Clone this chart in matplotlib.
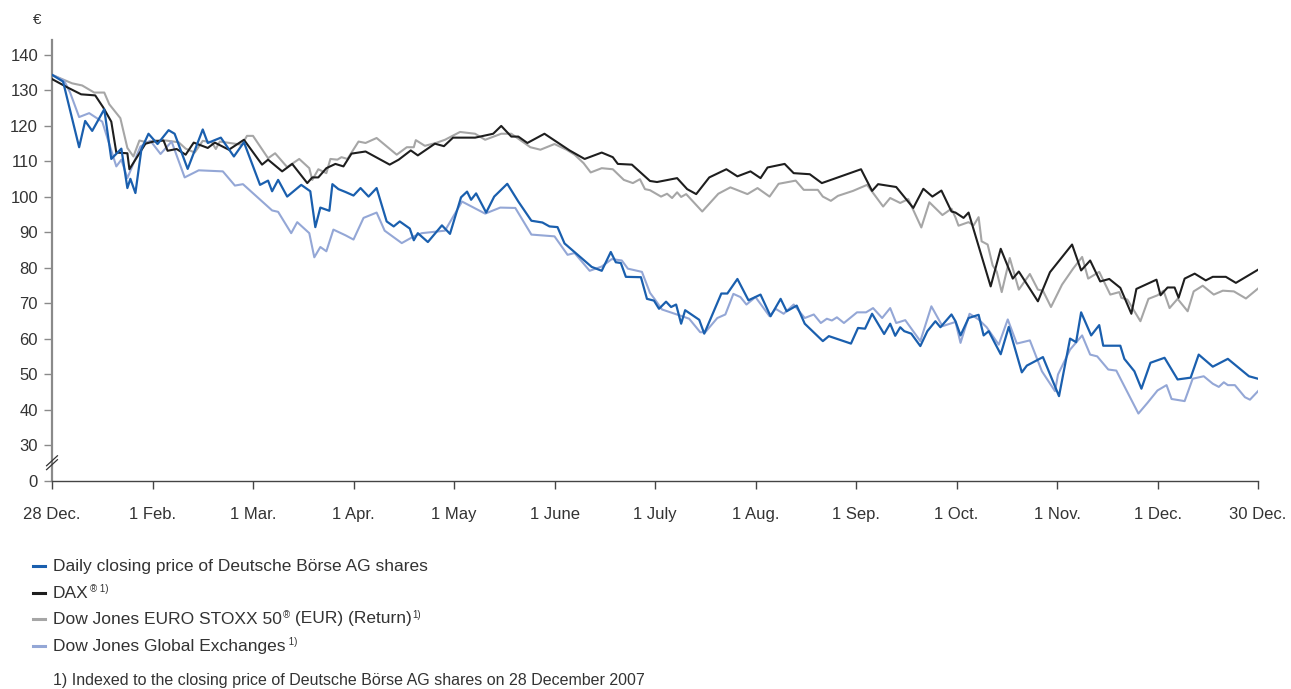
import matplotlib
matplotlib.use("Agg")
import matplotlib.pyplot as plt

plt.rcParams['font.family'] = ['Liberation Sans', 'DejaVu Sans']

# x positions are in months after 28 Dec. 2007 (each month tick is evenly spaced)
month_labels = ["28 Dec.", "1 Feb.", "1 Mar.", "1 Apr.", "1 May", "1 June", "1 July",
                "1 Aug.", "1 Sep.", "1 Oct.", "1 Nov.", "1 Dec.", "30 Dec."]
y_ticks = [20, 30, 40, 50, 60, 70, 80, 90, 100, 110, 120, 130, 140]
y_labels = ["0", "30", "40", "50", "60", "70", "80", "90", "100", "110", "120", "130", "140"]

db_x = [0.00, 0.11, 0.27, 0.33, 0.40, 0.52, 0.59, 0.69, 0.75, 0.78, 0.83, 0.89, 0.96, 1.05,
        1.16, 1.22, 1.35, 1.50, 1.55, 1.68, 1.81, 1.91, 2.07, 2.15, 2.19, 2.25, 2.34, 2.48,
        2.57, 2.62, 2.67, 2.76, 2.79, 2.85, 2.92, 3.00, 3.07, 3.15, 3.23, 3.33, 3.40, 3.46,
        3.56, 3.60, 3.64, 3.74, 3.88, 3.96, 4.07, 4.13, 4.17, 4.22, 4.32, 4.40, 4.53, 4.64,
        4.77, 4.88, 4.95, 5.03, 5.10, 5.37, 5.47, 5.56, 5.61, 5.66, 5.71, 5.86, 5.92, 5.99,
        6.04, 6.11, 6.16, 6.21, 6.26, 6.30, 6.44, 6.49, 6.66, 6.72, 6.82, 6.93, 7.05, 7.15,
        7.25, 7.31, 7.41, 7.49, 7.67, 7.73, 7.95, 8.02, 8.09, 8.16, 8.28, 8.34, 8.39, 8.44,
        8.48, 8.55, 8.64, 8.71, 8.79, 8.84, 8.95, 8.99, 9.04, 9.12, 9.22, 9.27, 9.32, 9.44,
        9.52, 9.65, 9.70, 9.86, 10.02, 10.13, 10.19, 10.24, 10.34, 10.42, 10.46, 10.63,
        10.67, 10.77, 10.84, 10.93, 11.07, 11.20, 11.33, 11.41, 11.55, 11.70, 11.91, 12.00]
db_y = [134.4, 132.5, 114.0, 121.4, 118.6, 124.7, 110.7, 113.6, 102.5, 105.1, 101.1, 113.5,
        117.8, 114.9, 118.8, 117.8, 107.9, 119.0, 115.2, 116.7, 111.4, 115.4, 103.4, 104.6,
        101.6, 104.8, 100.1, 103.4, 101.6, 91.5, 97.0, 96.1, 103.6, 102.2, 101.4, 100.4,
        102.5, 100.1, 102.5, 93.1, 91.7, 93.1, 91.1, 87.8, 89.8, 87.3, 92.0, 89.6, 99.9,
        101.5, 99.2, 101.0, 95.6, 100.1, 103.7, 98.7, 93.3, 92.8, 91.7, 91.5, 86.9, 80.3,
        79.2, 84.5, 81.6, 81.4, 77.5, 77.4, 71.3, 70.8, 68.5, 70.5, 69.0, 69.7, 64.3, 68.1,
        65.4, 61.5, 72.8, 72.8, 76.9, 70.9, 72.5, 66.4, 71.3, 67.8, 69.4, 64.3, 59.4, 60.8,
        58.7, 63.1, 62.9, 67.1, 61.4, 64.3, 60.9, 63.3, 62.2, 61.5, 58.0, 62.2, 65.0, 63.3,
        66.9, 65.0, 61.0, 65.9, 66.8, 61.0, 62.2, 55.7, 63.4, 50.6, 52.5, 54.9, 43.9, 60.1,
        59.1, 67.5, 61.0, 63.9, 58.1, 58.1, 54.4, 50.9, 46.0, 53.3, 54.7, 48.6, 49.1, 55.6,
        52.2, 54.4, 49.5, 48.8]

dax_x = [0.00, 0.15, 0.29, 0.43, 0.51, 0.59, 0.64, 0.75, 0.77, 0.93, 1.01, 1.11, 1.15, 1.24,
         1.33, 1.41, 1.55, 1.62, 1.76, 1.91, 2.09, 2.15, 2.29, 2.39, 2.54, 2.59, 2.65, 2.73,
         2.82, 2.90, 2.98, 3.12, 3.36, 3.45, 3.57, 3.64, 3.81, 3.90, 3.99, 4.21, 4.39, 4.47,
         4.57, 4.64, 4.73, 4.90, 5.15, 5.30, 5.47, 5.58, 5.63, 5.77, 5.95, 6.02, 6.22, 6.32,
         6.41, 6.54, 6.71, 6.82, 6.95, 7.05, 7.12, 7.29, 7.38, 7.54, 7.66, 8.05, 8.16, 8.22,
         8.40, 8.57, 8.67, 8.76, 8.85, 8.95, 8.99, 9.07, 9.12, 9.34, 9.44, 9.56, 9.62, 9.81,
         9.93, 10.15, 10.24, 10.33, 10.43, 10.52, 10.63, 10.74, 10.79, 10.99, 11.03, 11.10,
         11.17, 11.21, 11.27, 11.37, 11.48, 11.55, 11.68, 11.78, 12.00]
dax_y = [133.2, 130.9, 128.9, 128.6, 125.2, 121.2, 112.5, 112.3, 107.8, 115.0, 115.6, 115.9,
         113.0, 113.5, 111.9, 115.3, 113.8, 115.3, 113.3, 116.1, 109.1, 110.5, 107.2, 109.3,
         103.9, 105.5, 105.5, 108.1, 109.3, 108.6, 112.2, 112.8, 109.1, 110.5, 113.1, 111.7,
         115.0, 114.3, 116.7, 116.7, 117.8, 120.0, 117.0, 117.0, 115.2, 117.8, 113.1, 110.7,
         112.5, 111.2, 109.3, 109.1, 104.5, 104.2, 105.3, 102.2, 100.8, 105.5, 107.8, 105.8,
         107.2, 105.3, 108.3, 109.3, 106.7, 106.4, 103.9, 107.8, 101.7, 103.6, 102.8, 96.9,
         102.3, 100.1, 101.8, 95.9, 95.6, 94.1, 95.6, 74.8, 85.4, 77.0, 79.0, 70.6, 78.8,
         86.6, 79.3, 82.1, 76.2, 76.9, 74.4, 67.1, 74.1, 76.7, 72.3, 74.5, 74.5, 71.6, 77.0,
         78.4, 76.5, 77.5, 77.5, 75.8, 79.5]

stoxx_x = [0.00, 0.20, 0.30, 0.42, 0.52, 0.57, 0.68, 0.75, 0.81, 0.87, 0.94, 1.02, 1.13, 1.26,
           1.33, 1.42, 1.50, 1.59, 1.63, 1.67, 1.77, 1.89, 1.94, 2.00, 2.15, 2.22, 2.34, 2.46,
           2.56, 2.59, 2.65, 2.73, 2.77, 2.84, 2.88, 2.94, 3.05, 3.12, 3.23, 3.43, 3.53, 3.60,
           3.62, 3.71, 3.82, 3.91, 4.06, 4.21, 4.31, 4.47, 4.57, 4.64, 4.76, 4.86, 5.00, 5.12,
           5.20, 5.29, 5.36, 5.47, 5.58, 5.69, 5.78, 5.85, 5.90, 5.95, 6.06, 6.12, 6.17, 6.22,
           6.26, 6.31, 6.47, 6.63, 6.75, 6.92, 7.02, 7.14, 7.23, 7.40, 7.48, 7.62, 7.67, 7.75,
           7.82, 7.97, 8.11, 8.27, 8.34, 8.44, 8.52, 8.65, 8.73, 8.86, 8.95, 8.99, 9.02, 9.12,
           9.17, 9.22, 9.25, 9.31, 9.36, 9.40, 9.45, 9.53, 9.62, 9.73, 9.81, 9.86, 9.94, 10.05,
           10.16, 10.25, 10.31, 10.42, 10.53, 10.62, 10.64, 10.70, 10.83, 10.91, 11.00, 11.06,
           11.12, 11.20, 11.30, 11.36, 11.45, 11.56, 11.65, 11.76, 11.88, 12.00]
stoxx_y = [134.4, 132.0, 131.4, 129.4, 129.4, 126.1, 122.2, 113.8, 111.4, 115.9, 115.4, 115.9,
           115.9, 115.4, 113.6, 112.5, 115.8, 115.4, 113.5, 115.6, 115.2, 114.7, 117.2, 117.2,
           110.9, 112.3, 108.4, 110.7, 108.1, 104.8, 107.8, 106.7, 110.7, 110.5, 111.2, 110.7,
           115.6, 115.2, 116.6, 111.9, 114.0, 114.0, 116.0, 114.4, 115.2, 116.1, 118.3, 117.8,
           116.1, 117.8, 117.8, 116.4, 114.0, 113.3, 114.9, 113.3, 111.9, 109.5, 106.9, 108.1,
           107.8, 104.8, 103.9, 105.0, 102.2, 101.9, 100.1, 100.9, 99.7, 101.3, 100.0, 100.8,
           95.9, 100.9, 102.7, 100.8, 102.5, 100.1, 103.7, 104.6, 102.0, 102.0, 100.1, 98.9,
           100.3, 101.7, 103.4, 97.3, 99.7, 98.3, 99.4, 91.4, 98.5, 94.9, 96.7, 94.2, 91.9,
           92.9, 92.0, 94.3, 87.5, 86.6, 80.7, 79.0, 73.2, 82.8, 73.9, 78.3, 73.9, 73.6, 69.0,
           75.3, 79.8, 83.1, 77.0, 78.9, 72.5, 73.2, 71.6, 71.1, 65.0, 71.3, 72.3, 73.6, 68.7,
           71.3, 67.8, 73.4, 75.0, 72.5, 73.6, 73.4, 71.4, 74.2]

gx_x = [0.00, 0.12, 0.18, 0.27, 0.37, 0.50, 0.64, 0.69, 0.75, 0.88, 0.98, 1.08, 1.19, 1.32,
        1.46, 1.70, 1.82, 1.90, 2.19, 2.25, 2.38, 2.44, 2.56, 2.61, 2.67, 2.73, 2.80, 2.92,
        3.00, 3.10, 3.23, 3.31, 3.48, 3.60, 3.68, 3.91, 4.08, 4.31, 4.46, 4.61, 4.77, 5.00,
        5.13, 5.20, 5.35, 5.47, 5.57, 5.67, 5.73, 5.87, 5.95, 6.00, 6.07, 6.27, 6.34, 6.45,
        6.50, 6.62, 6.70, 6.78, 6.85, 6.91, 7.00, 7.14, 7.20, 7.28, 7.38, 7.49, 7.58, 7.65,
        7.71, 7.76, 7.81, 7.88, 8.01, 8.10, 8.17, 8.26, 8.34, 8.40, 8.49, 8.64, 8.75, 8.86,
        8.99, 9.04, 9.13, 9.22, 9.30, 9.42, 9.51, 9.60, 9.73, 9.85, 9.98, 10.01, 10.13,
        10.25, 10.33, 10.40, 10.51, 10.59, 10.81, 10.90, 11.00, 11.09, 11.14, 11.27, 11.35,
        11.46, 11.55, 11.61, 11.66, 11.70, 11.77, 11.87, 11.92, 12.00]
gx_y = [134.4, 132.8, 129.4, 122.5, 123.6, 121.2, 108.6, 110.5, 105.3, 114.2, 115.8, 112.1,
        115.6, 105.5, 107.5, 107.2, 103.2, 103.6, 96.2, 95.8, 89.8, 92.9, 89.8, 83.0, 85.9,
        84.7, 90.8, 89.2, 88.0, 94.1, 95.6, 90.5, 87.0, 88.9, 89.8, 90.5, 98.7, 95.3, 97.0,
        96.9, 89.4, 88.9, 83.7, 84.2, 79.2, 80.4, 82.5, 82.1, 79.8, 78.9, 73.0, 71.1, 68.3,
        66.4, 65.7, 61.9, 61.9, 65.9, 66.9, 72.7, 71.8, 69.7, 71.8, 66.4, 68.5, 67.1, 69.7,
        65.9, 66.9, 64.5, 65.7, 65.2, 66.1, 64.5, 67.5, 67.5, 68.7, 65.9, 68.7, 64.5, 65.3,
        59.4, 69.2, 63.6, 64.8, 58.9, 67.1, 65.5, 63.3, 58.4, 65.5, 58.7, 59.6, 50.9, 45.3,
        50.0, 57.0, 61.0, 55.6, 55.1, 51.4, 51.1, 39.0, 42.0, 45.5, 47.0, 43.1, 42.5, 48.8,
        49.5, 47.4, 46.5, 47.8, 47.0, 47.0, 43.6, 42.9, 45.3]

legend_labels = ["Daily closing price of Deutsche Börse AG shares", "DAX",
                 "Dow Jones EURO STOXX 50", "Dow Jones Global Exchanges"]
legend_sups = ["", "® 1)", "®", " 1)"]
legend_tails = ["", "", " (EUR) (Return)", ""]
legend_sups2 = ["", "", "1)", ""]
footnote = "1) Indexed to the closing price of Deutsche Börse AG shares on 28 December 2007"

c_db = "#1a5fae"
c_dax = "#1e1e1e"
c_stoxx = "#a6a6a6"
c_gx = "#94a7d6"
colors = [c_db, c_dax, c_stoxx, c_gx]
txt_col = "#333333"

W, H = 1291, 689
fig = plt.figure(figsize=(W / 100, H / 100), dpi=100)
ax = fig.add_axes([52 / W, 1 - 481 / H, 1206 / W, 441 / H])

ax.plot(stoxx_x, stoxx_y, color=c_stoxx, lw=1.5, zorder=2)
ax.plot(dax_x, dax_y, color=c_dax, lw=1.5, zorder=3)
ax.plot(gx_x, gx_y, color=c_gx, lw=1.5, zorder=2)
ax.plot(db_x, db_y, color=c_db, lw=1.6, zorder=4)

ax.set_xlim(0, 12)
ax.set_ylim(20, 144.2)
ax.set_xticks(range(13))
ax.set_xticklabels(month_labels)
ax.set_yticks(y_ticks)
ax.set_yticklabels(y_labels)

for s in ["top", "right"]:
    ax.spines[s].set_visible(False)
ax.spines["left"].set_color("#8a8a8a")
ax.spines["left"].set_linewidth(1.6)
ax.spines["bottom"].set_color("#444444")
ax.spines["bottom"].set_linewidth(1.0)
ax.tick_params(axis="y", length=6, width=1.0, color="#8a8a8a", labelsize=12,
               labelcolor=txt_col, pad=4)
ax.tick_params(axis="x", length=6, width=1.0, color="#444444", labelsize=12,
               labelcolor=txt_col, pad=13)

# axis break marks between 0 and 30
tr = ax.get_yaxis_transform()
for off in (0.0, 1.1):
    ax.plot([-0.0045, 0.0045], [23.2 + off, 26.0 + off], transform=tr, color=txt_col,
            lw=0.9, clip_on=False, zorder=5)

fig.text(33 / W, 1 - 20 / H, "€", fontsize=11, color=txt_col, va="center")

renderer = fig.canvas.get_renderer()


def right_edge(t):
    # right end of a text in figure fraction
    bb = t.get_window_extent(renderer=renderer)
    return bb.x1 / W


leg_y = [566, 593, 619, 646]
for i, py in enumerate(leg_y):
    yf = 1 - py / H
    fig.add_artist(plt.Line2D([33 / W, 45 / W], [yf, yf], color=colors[i], lw=2.2))
    t = fig.text(53 / W, yf, legend_labels[i], fontsize=12.5, color=txt_col, va="center")
    x = right_edge(t)
    if legend_sups[i]:
        s = fig.text(x + 1 / W, yf + 9 / H, legend_sups[i], fontsize=7, color=txt_col,
                     va="top")
        x = right_edge(s)
    if legend_tails[i]:
        tt = fig.text(x, yf, legend_tails[i], fontsize=12.5, color=txt_col, va="center")
        x = right_edge(tt)
    if legend_sups2[i]:
        fig.text(x + 1 / W, yf + 9 / H, legend_sups2[i], fontsize=7, color=txt_col, va="top")

fig.text(53 / W, 1 - 681 / H, footnote, fontsize=11.5, color=txt_col, va="center")

fig.savefig("out.png", dpi=100)
